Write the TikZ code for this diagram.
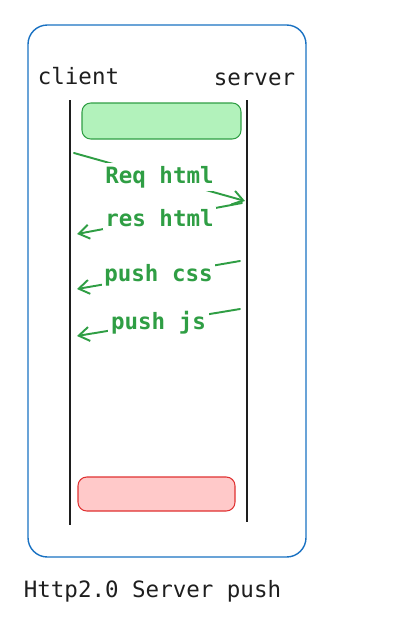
\documentclass[tikz,border=0pt]{standalone}
\usepackage{fontspec}
\setmonofont{DejaVu Sans Mono}
\usetikzlibrary{arrows.meta}
\definecolor{xblue}{HTML}{1971C2}
\definecolor{xgreen}{HTML}{2F9E44}
\definecolor{xlgreen}{HTML}{B2F2BB}
\definecolor{xred}{HTML}{E03131}
\definecolor{xlred}{HTML}{FFC9C9}
\definecolor{xink}{HTML}{1E1E1E}
\begin{document}
\begin{tikzpicture}[x=0.02cm,y=-0.02cm,
    font=\ttfamily\fontsize{12.8}{15}\selectfont,
    lbl/.style={text=xink},
    msg/.style={draw=xgreen,line width=1.1pt,line cap=round,-{Straight Barb[length=6pt,width=8pt]}},
    msglbl/.style={fill=white,inner sep=1.5pt,text=xgreen,font=\ttfamily\bfseries\fontsize{12.8}{15}\selectfont}]
  \useasboundingbox (0,0) rectangle (406,622);

  \draw[xblue,line width=0.8pt,rounded corners=11pt] (28,25) rectangle (306,557);

  \node[lbl] (CL) at (78.5,76) {client};
  \node[lbl] (SL) at (254.5,79) {server};

  \coordinate (C1) at (70,100);
  \coordinate (C2) at (70,525);
  \coordinate (S1) at (247,100);
  \coordinate (S2) at (247,522);
  \draw[xink,line width=0.9pt] (C1) -- (C2);
  \draw[xink,line width=0.9pt] (S1) -- (S2);

  \draw[xgreen,fill=xlgreen,line width=0.6pt,rounded corners=5pt] (82,103) rectangle (241,139);
  \draw[xred,fill=xlred,line width=0.6pt,rounded corners=5pt] (78,477) rectangle (235,511);

  \coordinate (R1) at (74,153);
  \coordinate (R2) at (245,201);
  \draw[msg] (R1) -- (R2) node[midway,msglbl] {Req html};

  \coordinate (H1) at (242,203);
  \coordinate (H2) at (77,234);
  \draw[msg] (H1) -- (H2) node[midway,msglbl] {res html};

  \coordinate (P1) at (240,261);
  \coordinate (P2) at (77,289);
  \draw[msg] (P1) -- (P2) node[midway,msglbl] {push css};

  \coordinate (J1) at (240,309);
  \coordinate (J2) at (77,336);
  \draw[msg] (J1) -- (J2) node[midway,msglbl] {push js};

  \node[lbl] (T) at (152.5,591) {Http2.0 Server push};
\end{tikzpicture}
\end{document}
